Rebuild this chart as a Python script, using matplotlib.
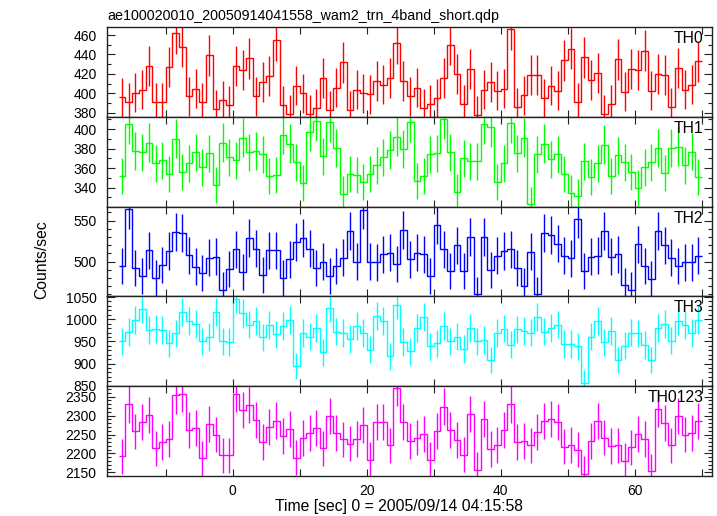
import numpy as np
import matplotlib.pyplot as plt
from matplotlib.ticker import MultipleLocator, FixedLocator

plt.rcParams['font.family'] = ['Liberation Sans', 'DejaVu Sans']

# 1 s bins, left edges from -17 s to 69 s
t_edges = np.arange(-17, 71)

th0 = [396, 391, 401, 404, 428, 391, 391, 427, 462, 448, 397, 405, 391, 439, 384, 393, 388,
       428, 424, 436, 397, 412, 418, 455, 388, 379, 408, 400, 379, 385, 416, 383, 406, 432,
       383, 404, 400, 399, 413, 409, 416, 452, 413, 397, 406, 385, 389, 395, 416, 450, 420,
       389, 425, 378, 404, 412, 403, 405, 466, 386, 398, 419, 419, 395, 408, 403, 434, 446,
       391, 437, 414, 421, 379, 389, 435, 402, 425, 424, 444, 403, 420, 419, 386, 426, 404,
       409, 433]
th1 = [352, 405, 378, 376, 386, 365, 368, 354, 390, 356, 365, 376, 361, 375, 343, 386, 371,
       368, 391, 376, 378, 374, 352, 353, 394, 385, 366, 345, 397, 408, 372, 407, 381, 334,
       354, 353, 346, 354, 363, 371, 379, 392, 380, 407, 347, 352, 374, 375, 410, 376, 336,
       370, 367, 367, 405, 402, 346, 365, 406, 375, 391, 323, 374, 385, 369, 374, 354, 335,
       331, 367, 351, 365, 384, 352, 373, 366, 356, 340, 361, 366, 381, 355, 381, 382, 363,
       377, 351]
th2 = [495, 564, 492, 483, 514, 480, 496, 513, 536, 535, 508, 494, 486, 505, 506, 466, 491,
       515, 487, 529, 516, 484, 514, 514, 480, 503, 524, 529, 516, 492, 500, 482, 495, 505,
       537, 500, 563, 500, 499, 509, 511, 497, 539, 503, 511, 509, 482, 545, 515, 489, 520,
       489, 530, 460, 530, 490, 507, 513, 515, 492, 470, 512, 460, 535, 533, 522, 507, 504,
       552, 489, 506, 507, 538, 506, 509, 471, 466, 521, 495, 479, 537, 520, 505, 495, 499,
       499, 507]
th3 = [950, 971, 999, 1023, 975, 978, 975, 946, 968, 1016, 995, 990, 950, 960, 1016, 950, 949,
       1046, 1013, 988, 996, 959, 986, 966, 984, 998, 895, 969, 961, 981, 926, 1025, 972, 969,
       955, 984, 969, 931, 1007, 995, 916, 1033, 949, 928, 981, 1004, 939, 946, 984, 950, 961,
       933, 981, 950, 953, 908, 969, 979, 943, 977, 973, 970, 1004, 972, 981, 988, 944, 944,
       939, 856, 961, 995, 948, 974, 908, 940, 970, 968, 942, 908, 981, 989, 952, 997, 986,
       969, 998]
th0123 = [2192, 2330, 2258, 2284, 2302, 2213, 2230, 2239, 2354, 2357, 2263, 2266, 2187, 2277,
          2250, 2195, 2195, 2358, 2314, 2328, 2288, 2230, 2269, 2287, 2245, 2264, 2189, 2241,
          2254, 2266, 2213, 2298, 2254, 2237, 2226, 2239, 2276, 2183, 2283, 2284, 2221, 2374,
          2282, 2233, 2242, 2251, 2183, 2259, 2324, 2263, 2235, 2197, 2304, 2156, 2290, 2211,
          2222, 2263, 2330, 2230, 2232, 2221, 2257, 2285, 2291, 2284, 2218, 2223, 2210, 2146,
          2232, 2285, 2242, 2219, 2221, 2180, 2216, 2251, 2239, 2153, 2317, 2281, 2221, 2298,
          2250, 2254, 2285]

names = ['TH0', 'TH1', 'TH2', 'TH3', 'TH0123']
series = [th0, th1, th2, th3, th0123]
colors = ['#ff0000', '#00ff00', '#0000ff', '#00ffff', '#ff00ff']
ylims = [(375.9, 467.9), (320.6, 412.3), (457.7, 567.1), (849.5, 1051.5), (2141, 2378.3)]
ymajor = [20, 20, 50, 50, 50]

fig = plt.figure(figsize=(7.17, 5.16), dpi=100)
W, H = 717, 516
left, right = 107, 711.7
top, ph = 27.3, 89.68

axes = []
for i in range(5):
    y0 = top + ph * (i + 1)
    ax = fig.add_axes([left / W, 1 - y0 / H, (right - left) / W, ph / H])
    axes.append(ax)
    vals = np.array(series[i], dtype=float)
    centers = t_edges[:-1] + 0.5
    ax.stairs(vals, t_edges, color=colors[i], lw=1.0, baseline=None)
    # 1 s bins: Poisson errors
    ax.errorbar(centers, vals, yerr=np.sqrt(vals), fmt='none', ecolor=colors[i],
                elinewidth=1.0, capsize=0)
    ax.set_xlim(-18.75, 71.5)
    ax.set_ylim(*ylims[i])
    ax.xaxis.set_major_locator(FixedLocator(range(-10, 71, 10)))
    ax.yaxis.set_major_locator(MultipleLocator(ymajor[i]))
    ax.yaxis.set_minor_locator(MultipleLocator(10))
    ax.tick_params(which='both', direction='in', top=True, right=True, labelsize=10,
                   width=0.8, colors='#222222', labelcolor='black')
    ax.tick_params(axis='y', which='major', length=6, pad=7.5)
    ax.tick_params(axis='y', which='minor', length=3)
    ax.tick_params(axis='x', which='major', length=5, pad=6)
    for s in ax.spines.values():
        s.set_linewidth(1.0)
        s.set_color('#222222')
    ax.text(0.986, 0.955, names[i], transform=ax.transAxes, ha='right', va='top',
            fontsize=11.3)
    if i < 4:
        ax.set_xticklabels([])
    else:
        ax.set_xticklabels(['' if v % 20 else str(v) for v in range(-10, 71, 10)])

fig.text(107 / W, 1 - 20 / H, 'ae100020010_20050914041558_wam2_trn_4band_short.qdp',
         ha='left', va='baseline', fontsize=10.3)
fig.text(41.7 / W, 1 - 259.5 / H, 'Counts/sec', rotation=90, ha='center', va='center',
         fontsize=11.3)
fig.text(398.5 / W, 1 - 507 / H, 'Time [sec] 0 = 2005/09/14 04:15:58', ha='center',
         va='center', fontsize=11.3)

fig.savefig('out.png', dpi=100)
